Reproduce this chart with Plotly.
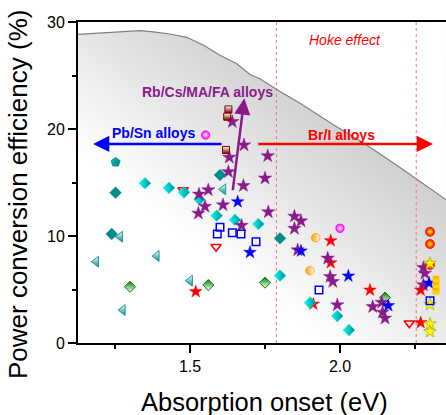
import base64
import plotly.graph_objects as go

# ---------------- data ----------------
limit_eV = [1.127, 1.21, 1.29, 1.333, 1.378, 1.433, 1.489, 1.544, 1.60, 1.656, 1.70,
            1.733, 1.80, 1.867, 1.978, 2.089, 2.20, 2.256, 2.353]
limit_pce = [28.85, 28.97, 29.07, 29.2, 29.07, 28.88, 28.57, 27.85, 26.9, 26.1, 25.1,
             24.7, 23.5, 22.4, 20.4, 18.5, 16.4, 15.3, 13.4]

hoke_bounds = [1.788, 2.254]

teal_tri_x = [1.267, 1.187, 1.389, 1.500, 1.276, 1.611]
teal_tri_y = [9.93, 7.60, 8.13, 5.82, 3.08, 14.36]

green_dia_x = [1.300, 1.561, 1.750, 2.150]
green_dia_y = [5.26, 5.42, 5.64, 4.24]

red_tri_x = [1.477, 1.587, 2.231]
red_tri_y = [14.3, 9.00, 1.84]

red_star_x = [1.519, 1.969, 1.969, 2.100, 2.269, 2.269, 1.911]
red_star_y = [4.80, 9.56, 7.50, 4.95, 4.95, 1.90, 3.64]

cyan_dia_x = [1.350, 1.430, 1.480, 1.531, 1.589, 1.650, 1.728, 1.800, 1.900, 1.991, 2.030]
cyan_dia_y = [14.93, 14.50, 14.08, 13.43, 11.90, 11.50, 11.12, 6.30, 3.77, 2.52, 1.21]

purple_star_x = [1.641, 1.680, 1.631, 1.759, 1.628, 1.750, 1.678, 1.561, 1.530, 1.550,
                 1.610, 1.528, 1.761, 1.672, 1.848, 1.870, 1.848, 1.859, 1.959, 1.967,
                 1.976, 1.991, 2.109, 2.139, 2.142, 2.150, 2.278, 2.283, 2.278]
purple_star_y = [20.68, 18.50, 17.35, 17.48, 16.00, 15.40, 14.70, 14.30, 13.90, 12.76,
                 12.90, 12.12, 12.24, 10.98, 11.84, 11.40, 10.70, 8.69, 7.92, 6.20,
                 5.73, 3.55, 3.39, 3.80, 2.87, 2.31, 7.04, 6.51, 5.42]

blue_star_x = [1.659, 1.700, 1.870, 2.028, 2.161, 2.297]
blue_star_y = [13.20, 8.47, 8.60, 6.26, 3.49, 5.60]

teal_dia_x = [1.252, 1.239, 1.600, 1.800]
teal_dia_y = [14.05, 10.19, 15.70, 9.78]

pentagon_x = [1.252]
pentagon_y = [16.9]

maroon_sq_x = [1.628, 1.624, 1.620]
maroon_sq_y = [21.83, 21.15, 18.04]

magenta_c_x = [1.552, 2.000]
magenta_c_y = [19.44, 10.72]

orange_c_x = [1.919, 1.900]
orange_c_y = [9.84, 6.76]

redyel_c_x = [2.300, 2.300, 2.300]
redyel_c_y = [10.40, 9.25, 7.30]

yellow_star_x = [2.300, 2.300, 2.300, 2.300]
yellow_star_y = [7.45, 3.60, 1.78, 1.06]

orange_sq_x = [2.320, 2.320, 2.320]
orange_sq_y = [5.98, 5.42, 4.86]

blue_sq_x = [1.600, 1.591, 1.641, 1.670, 1.720, 1.930, 2.300]
blue_sq_y = [10.81, 10.19, 10.31, 10.19, 9.47, 4.95, 3.96]

x_range = [1.1267, 2.3533]
y_range = [0, 30]

FONT = "Arial, 'Liberation Sans', sans-serif"

fig = go.Figure()

# gradient background (styling) placed over the axis range, masked above the limit curve
svg = ('<svg xmlns="http://www.w3.org/2000/svg" width="368" height="321" viewBox="0 0 368 321" '
       'preserveAspectRatio="none"><defs><linearGradient id="g" gradientUnits="userSpaceOnUse" '
       'x1="-64" y1="84" x2="138" y2="-181"><stop offset="0" stop-color="#ffffff"/>'
       '<stop offset="1" stop-color="#ababab"/></linearGradient></defs>'
       '<rect width="368" height="321" fill="url(#g)"/></svg>')
src = "data:image/svg+xml;base64," + base64.b64encode(svg.encode()).decode()
fig.add_layout_image(dict(source=src, xref="x", yref="y", x=x_range[0], y=y_range[1],
                          sizex=x_range[1] - x_range[0], sizey=y_range[1] - y_range[0],
                          sizing="stretch", xanchor="left", yanchor="top", layer="below"))

# white mask above the limit curve
fig.add_trace(go.Scatter(x=[x_range[0], x_range[1]], y=[y_range[1] + 1, y_range[1] + 1],
                         mode="lines", line=dict(width=0), hoverinfo="skip"))
fig.add_trace(go.Scatter(x=limit_eV, y=limit_pce, mode="lines", fill="tonexty",
                         fillcolor="white", line=dict(color="#808080", width=1.2),
                         hoverinfo="skip"))

# Hoke effect dotted lines
for xb in hoke_bounds:
    fig.add_trace(go.Scatter(x=[xb, xb], y=y_range, mode="lines",
                             line=dict(color="#ff7070", width=1, dash="dot"),
                             hoverinfo="skip"))


def add(x, y, symbol, size, color, line_color, line_width=1, grad=None, gcolor=None):
    m = dict(symbol=symbol, size=size, color=color,
             line=dict(color=line_color, width=line_width))
    if grad:
        m["gradient"] = dict(type=grad, color=gcolor)
    fig.add_trace(go.Scatter(x=x, y=y, mode="markers", marker=m))


add(teal_tri_x, teal_tri_y, "triangle-left", 9.5, "white", "#1a9e9e", 1, "vertical", "#008b8b")
add(green_dia_x, green_dia_y, "diamond", 8.5, "#008000", "#008000", 1, "vertical", "white")
add(red_tri_x, red_tri_y, "triangle-down-open", 9, "#ff0000", "#ff0000", 1.5)
add(red_star_x, red_star_y, "star", 9.5, "#ff0000", "#ff0000", 0.5)
add(cyan_dia_x, cyan_dia_y, "diamond", 9, "#00ffff", "#00e0e0", 0.5, "horizontal", "#008b8b")
add(purple_star_x, purple_star_y, "star", 10, "#8b1a8b", "#8b1a8b", 0.5)
add(blue_star_x, blue_star_y, "star", 9.5, "#0000ff", "#0000ff", 0.5)
add(teal_dia_x, teal_dia_y, "diamond", 9, "#008b8b", "#008b8b", 0.5)
add(pentagon_x, pentagon_y, "pentagon", 9.5, "#16b0b0", "#008b8b", 0.8, "horizontal", "#008b8b")
add(maroon_sq_x, maroon_sq_y, "square", 7, "white", "#800000", 1, "vertical", "#800000")
add(magenta_c_x, magenta_c_y, "circle", 8.5, "#ff00ff", "#ff00ff", 0.8, "radial", "white")
add(orange_c_x, orange_c_y, "circle", 8.5, "#ff9900", "#ff9900", 0.8, "horizontal", "white")
add(redyel_c_x, redyel_c_y, "circle", 9, "#ff0000", "#ff0000", 0.8, "radial", "#ffff00")
add(yellow_star_x, yellow_star_y, "star", 9.5, "#ffff00", "#b0b000", 0.8)
add(orange_sq_x, orange_sq_y, "square", 6, "#ff9900", "#ffcc00", 1, "vertical", "#ffee00")
add(blue_sq_x, blue_sq_y, "square-open", 7.5, "#0000ff", "#0000ff", 1.5)

# arrows
arrows = [
    dict(x=1.177, y=18.6, ax=1.61, ay=18.6, color="#0000ff"),
    dict(x=2.31, y=18.6, ax=1.723, ay=18.6, color="#ff0000"),
    dict(x=1.681, y=22.87, ax=1.642, ay=14.14, color="#8b1a8b"),
]
for a in arrows:
    fig.add_annotation(x=a["x"], y=a["y"], ax=a["ax"], ay=a["ay"], xref="x", yref="y",
                       axref="x", ayref="y", text="", showarrow=True, arrowhead=2,
                       arrowsize=1.3, arrowwidth=2.5, arrowcolor=a["color"])

labels = [
    dict(x=1.377, y=19.6, text="<b>Pb/Sn alloys</b>", color="#0000ff"),
    dict(x=2.004, y=19.4, text="<b>Br/I alloys</b>", color="#ff0000"),
    dict(x=1.558, y=23.46, text="<b>Rb/Cs/MA/FA alloys</b>", color="#8b1a8b"),
    dict(x=2.017, y=28.3, text="<i>Hoke effect</i>", color="#ff0000"),
]
for l in labels:
    fig.add_annotation(x=l["x"], y=l["y"], xref="x", yref="y", text=l["text"],
                       showarrow=False, font=dict(family=FONT, size=14, color=l["color"]))

# axis titles
fig.add_annotation(x=0.508, y=-0.183, xref="paper", yref="paper", text="Absorption onset (eV)",
                   showarrow=False, xanchor="center", yanchor="middle",
                   font=dict(family=FONT, size=25.5, color="black"))
fig.add_annotation(x=-0.163, y=0.461, xref="paper", yref="paper",
                   text="Power conversion efficiency (%)", textangle=-90,
                   showarrow=False, xanchor="center", yanchor="middle",
                   font=dict(family=FONT, size=26, color="black"))

fig.update_layout(
    width=446, height=415,
    margin=dict(l=78, r=0, t=22, b=72),
    paper_bgcolor="white", plot_bgcolor="white",
    showlegend=False,
    font=dict(family=FONT, color="black"),
)
fig.update_xaxes(
    range=x_range, showgrid=False, zeroline=False, automargin=False,
    showline=True, linecolor="black", linewidth=2, mirror=True,
    ticks="outside", ticklen=8, tickwidth=1.5, tickcolor="black",
    tick0=1.0, dtick=0.5, tickformat=".1f",
    tickfont=dict(size=16, family=FONT),
    minor=dict(ticks="outside", ticklen=4, tickwidth=1.5, tickcolor="black", dtick=0.25),
)
fig.update_yaxes(
    range=y_range, showgrid=False, zeroline=False, automargin=False,
    showline=True, linecolor="black", linewidth=2, mirror=False,
    ticks="outside", ticklen=8, tickwidth=1.5, tickcolor="black",
    tick0=0, dtick=10,
    tickfont=dict(size=16, family=FONT),
    minor=dict(ticks="outside", ticklen=4, tickwidth=1.5, tickcolor="black", dtick=5),
)

fig.write_html("out.html", config={"displayModeBar": False},
               post_script="document.body.style.margin='0';document.body.style.overflow='hidden';")
